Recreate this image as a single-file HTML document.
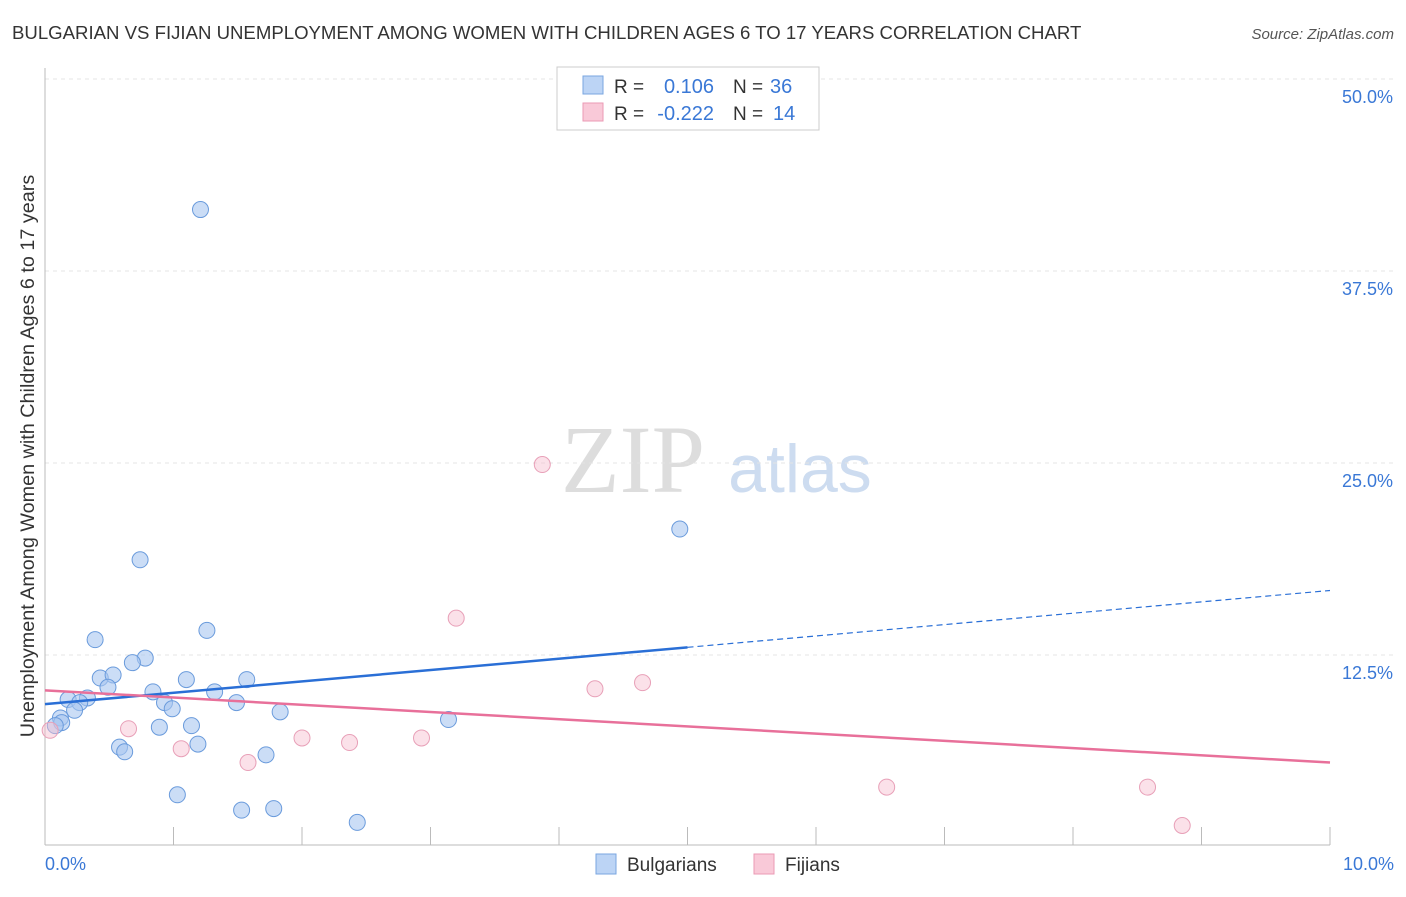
<!DOCTYPE html>
<html><head><meta charset="utf-8"><style>
body{margin:0;background:#fff;font-family:"Liberation Sans",sans-serif;}
</style></head><body>
<svg id="c" width="1406" height="892" xmlns="http://www.w3.org/2000/svg">
<text x="12" y="39" font-size="18.6" fill="#333">BULGARIAN VS FIJIAN UNEMPLOYMENT AMONG WOMEN WITH CHILDREN AGES 6 TO 17 YEARS CORRELATION CHART</text>
<text x="1394" y="39" font-size="15" fill="#555" text-anchor="end" font-style="italic">Source: ZipAtlas.com</text>
<text x="633" y="492" font-size="96" fill="#ddd" font-family="Liberation Serif,serif" text-anchor="middle">ZIP</text>
<text x="800" y="492" font-size="68" fill="#cddcf0" text-anchor="middle">atlas</text>
<text transform="translate(34,456) rotate(-90)" font-size="19.8" fill="#333" text-anchor="middle">Unemployment Among Women with Children Ages 6 to 17 years</text>
<g id="grid"></g><g id="marks"></g>
<g>
<rect x="557" y="67" width="262" height="63" fill="#fff" stroke="#ccc"/>
<rect x="583" y="76" width="20" height="18" fill="#bcd4f5" stroke="#7aa6e0"/>
<rect x="583" y="103" width="20" height="18" fill="#f9c9d8" stroke="#eb9ab4"/>
<text x="614" y="93" font-size="19" fill="#333">R =</text>
<text x="714" y="93" font-size="20" fill="#3a78d6" text-anchor="end">0.106</text>
<text x="733" y="93" font-size="19" fill="#333">N =</text>
<text x="770" y="93" font-size="20" fill="#3a78d6">36</text>
<text x="614" y="120" font-size="19" fill="#333">R =</text>
<text x="714" y="120" font-size="20" fill="#3a78d6" text-anchor="end">-0.222</text>
<text x="733" y="120" font-size="19" fill="#333">N =</text>
<text x="773" y="120" font-size="20" fill="#3a78d6">14</text>
</g>
<g>
<rect x="596" y="854" width="20" height="20" fill="#bcd4f5" stroke="#7aa6e0"/>
<text x="627" y="871" font-size="19" fill="#333">Bulgarians</text>
<rect x="754" y="854" width="20" height="20" fill="#f9c9d8" stroke="#eb9ab4"/>
<text x="785" y="871" font-size="19" fill="#333">Fijians</text>
</g>
</svg>
<script>
const yTicks=[12.5,25,37.5,50];
const yTickLabels=["12.5%","25.0%","37.5%","50.0%"];
const xTickLabels=["0.0%","10.0%"];
const bulgX=[1.21,4.94,0.74,0.39,1.26,0.78,0.43,0.53,0.68,0.49,0.84,1.10,1.57,1.32,0.18,0.33,0.27,0.93,0.99,1.49,0.23,1.83,0.12,0.13,0.89,1.14,3.14,0.08,0.58,0.62,1.19,1.72,1.03,1.53,1.78,2.43];
const bulgY=[41.5,20.7,18.7,13.5,14.1,12.3,11.0,11.2,12.0,10.4,10.1,10.9,10.9,10.1,9.6,9.7,9.4,9.4,9.0,9.4,8.9,8.8,8.4,8.1,7.8,7.9,8.3,7.9,6.5,6.2,6.7,6.0,3.4,2.4,2.5,1.6];
const fijiX=[3.87,3.20,4.65,4.28,0.65,1.06,2.00,2.37,2.93,1.58,6.55,8.58,8.85,0.04];
const fijiY=[24.9,14.9,10.7,10.3,7.7,6.4,7.1,6.8,7.1,5.5,3.9,3.9,1.4,7.6];
const bulgTrend=[9.3,16.7];
const fijiTrend=[10.2,5.5];
const NS="http://www.w3.org/2000/svg";
const X=v=>45+v*128.5, Y=v=>847-v*15.36;
function mk(t,a,p){const e=document.createElementNS(NS,t);for(const k in a)e.setAttribute(k,a[k]);p.appendChild(e);return e;}
const g=document.getElementById('grid'),m=document.getElementById('marks');
yTicks.forEach((t,i)=>{
 const l=mk('line',{x1:45,x2:1394,y1:Y(t),y2:Y(t),stroke:'#e4e4e4','stroke-dasharray':'4,4'},g);
 
 
 const tx=mk('text',{x:1393,y:Y(t)+24,'font-size':18,fill:'#3a78d6','text-anchor':'end'},g);tx.textContent=yTickLabels[i];
 
 
});
const ax=mk('line',{x1:45,x2:1330,y1:845,y2:845,stroke:'#bbb'},g);


const ay=mk('line',{x1:45,x2:45,y1:68,y2:845,stroke:'#bbb'},g);


for(let i=1;i<=10;i++){const t=mk('line',{x1:X(i),x2:X(i),y1:827,y2:845,stroke:'#bbb'},g);
 
 }
[[0,'start',45],[10,'end',1394]].forEach((d,i)=>{const t=mk('text',{x:d[2],y:870,'font-size':18,fill:'#3a78d6','text-anchor':d[1]},g);t.textContent=xTickLabels[i];
 
 });
function pts(xs,ys,f,s,n,o){xs.forEach((x,i)=>{const c=mk('circle',{cx:X(x),cy:Y(ys[i]),r:8,fill:f,'fill-opacity':o,stroke:s,'stroke-width':1},m);
 
 });}
pts(bulgX,bulgY,'#a9c7f0','#6a9bdc','bulgarian-point',0.6);
pts(fijiX,fijiY,'#f7bccf','#e8a0b8','fijian-point',0.45);
const b1=mk('line',{x1:X(0),y1:Y(bulgTrend[0]),x2:X(5),y2:Y((bulgTrend[0]+bulgTrend[1])/2),stroke:'#2a6fd6','stroke-width':2.5},m);


const b2=mk('line',{x1:X(5),y1:Y((bulgTrend[0]+bulgTrend[1])/2),x2:X(10),y2:Y(bulgTrend[1]),stroke:'#2a6fd6','stroke-width':1.2,'stroke-dasharray':'6,4'},m);


const f1=mk('line',{x1:X(0),y1:Y(fijiTrend[0]),x2:X(10),y2:Y(fijiTrend[1]),stroke:'#e8709a','stroke-width':2.5},m);


</script>
</body></html>
